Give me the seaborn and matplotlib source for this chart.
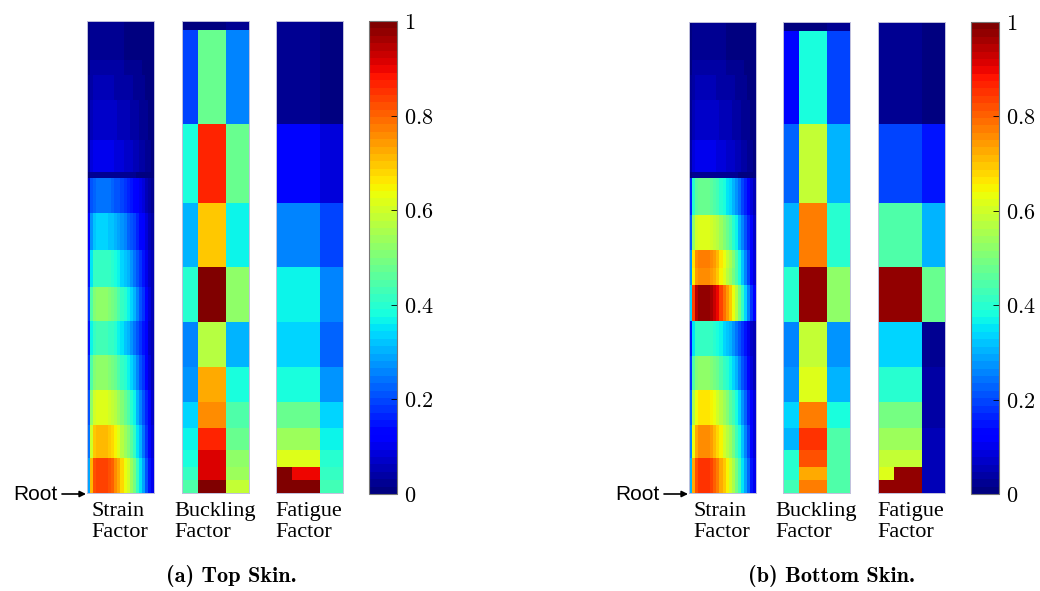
import numpy as np
import matplotlib
matplotlib.use("Agg")
import matplotlib.pyplot as plt
import seaborn as sns

W, H = 1040, 591

# strain factor: peak value of each spanwise row (tip at top, root at bottom)
# and the chordwise shape read across a row (left -> right)
strain_profile = [0.35, 0.85, 0.97, 1.0, 1.0, 1.0, 1.0, 0.98, 0.95, 0.91, 0.86,
                  0.81, 0.76, 0.71, 0.65, 0.58, 0.50, 0.42, 0.34, 0.26, 0.18, 0.12]

top_strain_rows = [39, 15, 25, 40, 32, 6, 35, 37, 37, 34, 34, 35, 35, 33, 35]
top_strain_peak = [0.02, 0.04, 0.05, 0.07, 0.10, 0.03, 0.24, 0.33, 0.42, 0.52,
                   0.43, 0.52, 0.62, 0.71, 0.84]

bot_strain_rows = [38, 15, 25, 40, 32, 6, 37, 35, 18, 17, 36, 35, 34, 35, 33, 35]
bot_strain_peak = [0.02, 0.04, 0.05, 0.07, 0.10, 0.03, 0.47, 0.62, 0.78, 0.76,
                   0.98, 0.42, 0.52, 0.66, 0.75, 0.85]

# buckling / fatigue: 3 chordwise cells per rib bay
top_bay_rows = [9, 94, 79, 64, 55, 45, 35, 26, 22, 17, 13, 13]
bot_bay_rows = [9, 93, 79, 64, 55, 45, 35, 26, 22, 17, 13, 13]
cell_cols = [16, 27, 23]

top_buckling = [[0.00, 0.00, 0.02], [0.20, 0.47, 0.25], [0.38, 0.87, 0.47],
                [0.30, 0.69, 0.37], [0.40, 0.99, 0.52], [0.25, 0.57, 0.30],
                [0.28, 0.72, 0.375], [0.33, 0.76, 0.44], [0.36, 0.87, 0.47],
                [0.38, 0.92, 0.52], [0.42, 0.92, 0.54], [0.45, 0.99, 0.58]]
top_fatigue = [[0.03, 0.03, 0.00], [0.03, 0.03, 0.00], [0.14, 0.14, 0.09],
               [0.25, 0.25, 0.19], [0.36, 0.36, 0.25], [0.33, 0.33, 0.23],
               [0.39, 0.39, 0.28], [0.47, 0.47, 0.33], [0.54, 0.54, 0.36],
               [0.61, 0.61, 0.40], [1.00, 0.90, 0.42], [1.00, 1.00, 0.43]]

bot_buckling = [[0.00, 0.00, 0.02], [0.13, 0.375, 0.20], [0.23, 0.59, 0.31],
                [0.31, 0.78, 0.40], [0.40, 0.98, 0.52], [0.25, 0.59, 0.28],
                [0.27, 0.61, 0.31], [0.33, 0.77, 0.375], [0.31, 0.85, 0.44],
                [0.40, 0.82, 0.44], [0.40, 0.72, 0.44], [0.43, 0.77, 0.44]]
bot_fatigue = [[0.03, 0.03, 0.00], [0.03, 0.03, 0.00], [0.20, 0.20, 0.15],
               [0.44, 0.44, 0.31], [0.98, 0.98, 0.47], [0.33, 0.33, 0.02],
               [0.40, 0.40, 0.04], [0.49, 0.49, 0.04], [0.54, 0.54, 0.06],
               [0.59, 0.59, 0.06], [0.61, 0.98, 0.06], [0.98, 0.98, 0.06]]

cbar_ticks = [0, 0.2, 0.4, 0.6, 0.8, 1]

jet = matplotlib.colormaps["jet"].resampled(64)
plt.rcParams["mathtext.fontset"] = "cm"

fig = plt.figure(figsize=(W / 100, H / 100), dpi=100)


def px_axes(x0, y0, x1, y1):
    return fig.add_axes([x0 / W, 1 - y1 / H, (x1 - x0) / W, (y1 - y0) / H])


def panel(ax, grid, cax=None):
    sns.heatmap(grid, ax=ax, cmap=jet, vmin=0, vmax=1, cbar=cax is not None,
                cbar_ax=cax, xticklabels=False, yticklabels=False)
    ax.tick_params(left=False, bottom=False)
    for s in ax.spines.values():
        s.set_visible(True)
        s.set_color("#c0c0dc")
        s.set_linewidth(0.7)


def skin(x_strain, x_buck, x_fat, x_cbar, y0, y1, s_rows, s_peak, b_rows, buck, fat, caption):
    strain = np.repeat(np.outer(s_peak, strain_profile), s_rows, axis=0)
    bgrid = np.repeat(np.repeat(np.array(buck), b_rows, axis=0), cell_cols, axis=1)
    fgrid = np.repeat(np.repeat(np.array(fat), b_rows, axis=0), cell_cols, axis=1)

    panel(px_axes(x_strain, y0, x_strain + 67, y1), strain)
    panel(px_axes(x_buck, y0, x_buck + 67, y1), bgrid)
    cax = px_axes(x_cbar, y0, x_cbar + 28, y1 + 1)
    panel(px_axes(x_fat, y0, x_fat + 67, y1), fgrid, cax=cax)

    cbar = fig.axes[-1].collections[0].colorbar
    cbar.set_ticks(cbar_ticks)
    cbar.set_ticklabels([f"${t:g}$" for t in cbar_ticks])
    cbar.ax.tick_params(direction="in", length=4, width=0.6, labelsize=16, pad=5)
    cbar.outline.set_edgecolor("#777777")
    cbar.outline.set_linewidth(0.8)

    for x, name in [(x_strain, "Strain"), (x_buck, "Buckling"), (x_fat, "Fatigue")]:
        fig.text((x + 33) / W, 1 - 502 / H, f"{name}\nFactor", ha="center", va="top",
                 multialignment="left", family="Liberation Serif", fontsize=16,
                 linespacing=1.15)

    fig.text((x_strain - 74) / W, 1 - 495 / H, "Root", ha="left", va="center",
             family="Liberation Sans", fontsize=15)
    ax_arrow = fig.add_axes([0, 0, 1, 1], frameon=False)
    ax_arrow.set_axis_off()
    ax_arrow.annotate("", xy=((x_strain - 1) / W, 1 - 494 / H),
                      xytext=((x_strain - 25) / W, 1 - 494 / H),
                      xycoords="figure fraction", textcoords="figure fraction",
                      arrowprops=dict(arrowstyle="-|>", color="black", lw=1.2,
                                      mutation_scale=9, shrinkA=0, shrinkB=0))

    fig.text(caption[1] / W, 1 - 576 / H, caption[0], ha="center", va="center",
             family="cmb10", fontsize=16)


skin(87, 182, 276, 369, 21, 493, top_strain_rows, top_strain_peak, top_bay_rows,
     top_buckling, top_fatigue, ("(a) Top Skin.", 231))
skin(689, 783, 878, 971, 22, 493, bot_strain_rows, bot_strain_peak, bot_bay_rows,
     bot_buckling, bot_fatigue, ("(b) Bottom Skin.", 832))

fig.savefig("out.png", dpi=100)
